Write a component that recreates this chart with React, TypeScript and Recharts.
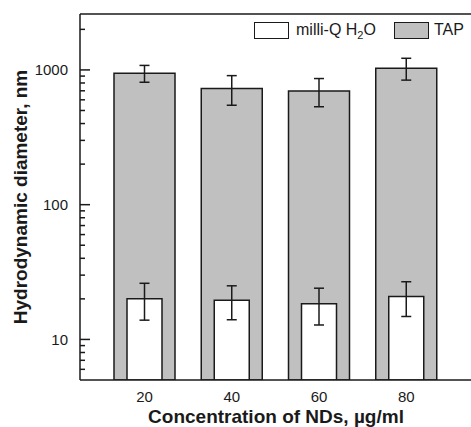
import React from "react";
import {
  Bar,
  BarChart,
  ErrorBar,
  Legend,
  ReferenceLine,
  XAxis,
  YAxis
} from "recharts";

const concentrations = ["20", "40", "60", "80"];
const tapDiameter = [945, 727, 698, 1030];
const tapError = [135, 180, 165, 190];
const waterDiameter = [20.0, 19.5, 18.4, 20.8];
const waterError = [6.1, 5.5, 5.6, 6.0];

const yDomain: [number, number] = [5, 2600];
const majorTicks = [10, 100, 1000];
const yTicks = [
  6, 7, 8, 9, 10, 20, 30, 40, 50, 60, 70, 80, 90, 100, 200, 300, 400, 500, 600, 700, 800, 900,
  1000, 2000
];

const font = '"Liberation Sans", Arial, Helvetica, sans-serif';
const ink = "#1a1a1a";
const TICK_GAP = 12;

const chartData = concentrations.map((conc, i) => ({
  conc,
  tap: tapDiameter[i],
  tapErr: tapError[i],
  water: waterDiameter[i],
  waterErr: waterError[i]
}));

// log axis: labels only on decades, inward tick marks (long on decades)
function YTick(props: any) {
  const { x, y, payload } = props;
  const value = payload.value as number;
  const major = majorTicks.includes(value);
  const axisX = x + TICK_GAP;
  return (
    <g>
      <line x1={axisX} x2={axisX + (major ? 10 : 5)} y1={y} y2={y} stroke={ink} strokeWidth={1.5} />
      {major ? (
        <text x={x} y={y} dy="0.36em" textAnchor="end" fontSize={15} fill={ink} fontFamily={font}>
          {value}
        </text>
      ) : null}
    </g>
  );
}

const legendOrder = [
  { key: "water", fill: "#ffffff" },
  { key: "tap", fill: "#c0c0c0" }
];

function ChartLegend() {
  return (
    <div style={{ display: "flex", alignItems: "center", fontFamily: font, fontSize: 16, color: ink }}>
      {legendOrder.map((item) => (
        <div key={item.key} style={{ display: "flex", alignItems: "center", marginRight: 18 }}>
          <span
            style={{
              display: "inline-block",
              width: 33,
              height: 15,
              background: item.fill,
              border: `1.5px solid ${ink}`,
              marginRight: item.key === "water" ? 7 : 5
            }}
          />
          {item.key === "water" ? (
            <span>
              milli-Q H<sub style={{ fontSize: 11, lineHeight: 0 }}>2</sub>O
            </span>
          ) : (
            <span>TAP</span>
          )}
        </div>
      ))}
    </div>
  );
}

export default function App() {
  return (
    <div
      style={{
        position: "fixed",
        left: 0,
        top: 0,
        width: 471,
        height: 427,
        overflow: "hidden",
        background: "#fff"
      }}
    >
      <BarChart
        width={480}
        height={427}
        data={chartData}
        margin={{ top: 14, right: 8, bottom: 0, left: 0 }}
      >
        <XAxis
          dataKey="conc"
          type="category"
          padding={{ left: 21, right: 22 }}
          height={47}
          tickLine={false}
          tickMargin={5}
          axisLine={{ stroke: ink, strokeWidth: 1.5 }}
          tick={{ fontSize: 15, fill: ink, fontFamily: font }}
          label={{
            value: "Concentration of NDs, µg/ml",
            position: "insideBottom",
            offset: 4,
            fontSize: 19,
            fontWeight: "bold",
            fill: ink,
            fontFamily: font
          }}
        />
        <XAxis xAxisId="water" dataKey="conc" type="category" padding={{ left: 21, right: 22 }} hide />
        <YAxis
          scale="log"
          domain={yDomain}
          allowDataOverflow
          ticks={yTicks}
          interval={0}
          width={80}
          tickLine={false}
          tickSize={0}
          tickMargin={TICK_GAP}
          axisLine={{ stroke: ink, strokeWidth: 1.5 }}
          tick={<YTick />}
          label={{
            value: "Hydrodynamic diameter, nm",
            angle: -90,
            position: "center",
            dx: -20,
            fontSize: 19,
            fontWeight: "bold",
            fill: ink,
            fontFamily: font
          }}
        />
        <ReferenceLine y={yDomain[1]} stroke={ink} strokeWidth={1.5} ifOverflow="visible" />
        <Legend
          verticalAlign="middle"
          align="center"
          wrapperStyle={{ top: 21, left: 254, width: 240 }}
          content={<ChartLegend />}
        />
        <Bar dataKey="tap" name="TAP" fill="#c0c0c0" stroke={ink} strokeWidth={1.5} barSize={61} isAnimationActive={false}>
          <ErrorBar dataKey="tapErr" width={5} stroke={ink} strokeWidth={1.5} />
        </Bar>
        <Bar
          dataKey="water"
          xAxisId="water"
          name="milli-Q H2O"
          fill="#ffffff"
          stroke={ink}
          strokeWidth={1.5}
          barSize={35}
          isAnimationActive={false}
        >
          <ErrorBar dataKey="waterErr" width={5} stroke={ink} strokeWidth={1.5} />
        </Bar>
      </BarChart>
    </div>
  );
}
